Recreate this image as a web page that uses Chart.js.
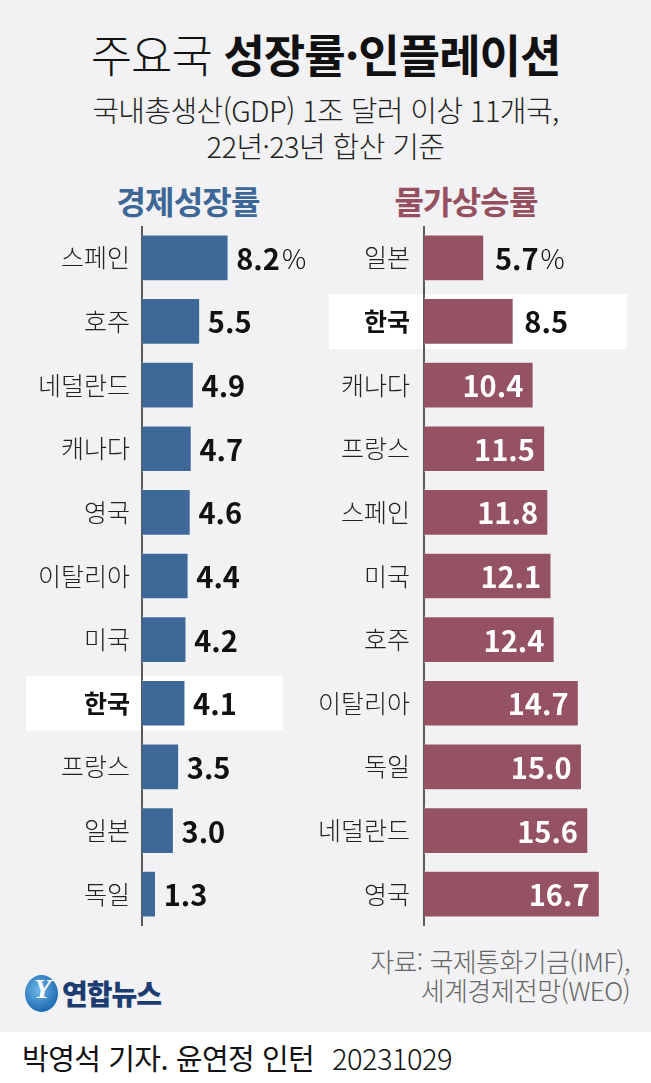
<!DOCTYPE html>
<html lang="ko">
<head>
<meta charset="utf-8">
<script src="https://cdn.jsdelivr.net/npm/chart.js@4"></script>
<style>
  body { margin: 0; background: #f2f2f4; font-family: "Noto Sans CJK KR", sans-serif; }
  #page { position: relative; width: 651px; height: 1083px; overflow: hidden; background: #f2f2f4; }
  .abs { position: absolute; }
  #title { top: 24px; left: 0; width: 651px; text-align: center; font-size: 45px; color: #111; line-height: 60px; letter-spacing: -1px; }
  #title .thin { font-weight: 300; }
  #title .bold { font-weight: 700; }
  #sub { top: 91px; left: 0; width: 651px; text-align: center; font-size: 29px; font-weight: 300; color: #222; line-height: 36px; letter-spacing: -0.6px; }
  .head { top: 180px; font-size: 32px; font-weight: 700; line-height: 40px; text-align: center; width: 220px; letter-spacing: -0.8px; }
  #headL { left: 78px; color: #3d6797; }
  #headR { left: 356px; color: #954f5f; }
  #cL { left: 0; top: 226px; }
  #cR { left: 290px; top: 226px; }
  #src { right: 21px; top: 946px; text-align: right; font-size: 26px; font-weight: 300; color: #666; line-height: 29px; letter-spacing: -0.6px; }
  #logo { left: 25px; top: 975px; height: 36px; }
  #logo .dot { position: absolute; left: 0; top: 0; width: 33px; height: 37px; border-radius: 50%;
    background: radial-gradient(circle at 40% 40%, #6fb6e8, #1f6db5 70%); }
  #logo .dot span { position: absolute; left: 9px; top: -2px; color: #fff; font-style: italic; font-weight: 700; font-size: 28px; font-family: "Liberation Serif", serif; }
  #logo .txt { position: absolute; left: 37px; top: 0; font-size: 28px; font-weight: 900; color: #1d3c72; line-height: 36px; letter-spacing: -1px; white-space: nowrap; }
  #foot { left: 0; top: 1032px; width: 651px; height: 51px; background: #fff; }
  #credit { left: 22px; top: 1037px; font-size: 29px; color: #111; line-height: 40px; white-space: nowrap; letter-spacing: -0.5px; }
  #credit .date { font-weight: 300; margin-left: 10px; }
</style>
</head>
<body>
<div id="page">
  <div id="title" class="abs"><span class="thin">주요국</span> <span class="bold">성장률·인플레이션</span></div>
  <div id="sub" class="abs">국내총생산(GDP) 1조 달러 이상 11개국,<br>22년·23년 합산 기준</div>
  <div id="headL" class="abs head">경제성장률</div>
  <div id="headR" class="abs head">물가상승률</div>
  <canvas id="cL" class="abs" width="325" height="700"></canvas>
  <canvas id="cR" class="abs" width="361" height="700"></canvas>
  <div id="src" class="abs">자료: 국제통화기금(IMF),<br>세계경제전망(WEO)</div>
  <div id="logo" class="abs"><div class="dot"><span>Y</span></div><div class="txt">연합뉴스</div></div>
  <div id="foot" class="abs"></div>
  <div id="credit" class="abs">박영석 기자. 윤연정 인턴 <span class="date">20231029</span></div>
</div>
<script>
// ====== DATA ======
const growthCountries = ["스페인", "호주", "네덜란드", "캐나다", "영국", "이탈리아", "미국", "한국", "프랑스", "일본", "독일"];
const growthValues = [8.2, 5.5, 4.9, 4.7, 4.6, 4.4, 4.2, 4.1, 3.5, 3.0, 1.3];

const inflationCountries = ["일본", "한국", "캐나다", "프랑스", "스페인", "미국", "호주", "이탈리아", "독일", "네덜란드", "영국"];
const inflationValues = [5.7, 8.5, 10.4, 11.5, 11.8, 12.1, 12.4, 14.7, 15.0, 15.6, 16.7];

const FONT = '"Noto Sans CJK KR", sans-serif';
const HIGHLIGHT = "한국";

// white band behind the Korea row (drawn before the axis labels)
const highlightPlugin = {
  id: "highlightRow",
  beforeDraw(chart, args, opts) {
    const idx = chart.data.labels.indexOf(HIGHLIGHT);
    if (idx < 0) return;
    const y = chart.scales.y.getPixelForValue(idx);
    const ctx = chart.ctx;
    ctx.save();
    ctx.fillStyle = "#ffffff";
    ctx.fillRect(opts.x1, y - 27.5, opts.x2 - opts.x1, 55);
    ctx.restore();
  }
};

// value labels: outside (black) or inside (white)
const valueLabelPlugin = {
  id: "valueLabels",
  afterDatasetsDraw(chart, args, opts) {
    const ctx = chart.ctx;
    const values = chart.data.datasets[0].data;
    ctx.save();
    ctx.textBaseline = "middle";
    chart.getDatasetMeta(0).data.forEach((bar, i) => {
      const v = values[i];
      const txt = v.toFixed(1);
      ctx.font = "700 29px " + FONT;
      if (v >= opts.insideFrom) {
        ctx.fillStyle = "#ffffff";
        ctx.textAlign = "right";
        ctx.fillText(txt, bar.x - 10, bar.y + 1);
      } else {
        ctx.fillStyle = "#111111";
        ctx.textAlign = "left";
        const x0 = bar.x + opts.gap;
        ctx.fillText(txt, x0, bar.y + 1);
        if (i === 0) {
          const w = ctx.measureText(txt).width;
          ctx.font = "300 27px " + FONT;
          ctx.fillText("%", x0 + w + 2, bar.y + 1);
        }
      }
    });
    ctx.restore();
  }
};

function makeChart(id, labels, values, color, axisWidth, xMax, tickPad, hl, insideFrom, gap) {
  return new Chart(document.getElementById(id), {
    type: "bar",
    data: {
      labels: labels,
      datasets: [{
        data: values,
        backgroundColor: color,
        borderColor: "rgba(255,255,255,0.35)",
        borderWidth: 1,
        barThickness: 46
      }]
    },
    options: {
      indexAxis: "y",
      responsive: false,
      animation: false,
      layout: { padding: 0 },
      plugins: {
        legend: { display: false },
        tooltip: { enabled: false },
        highlightRow: hl,
        valueLabels: { insideFrom: insideFrom, gap: gap }
      },
      scales: {
        x: { display: false, min: 0, max: xMax },
        y: {
          afterFit(scale) {
            scale.width = axisWidth;
            scale.paddingTop = 0;
            scale.paddingBottom = 0;
          },
          grid: { display: true, drawOnChartArea: false, drawTicks: false },
          border: { display: true, color: "#5a5a5a", width: 2 },
          ticks: {
            padding: tickPad,
            color: c => c.tick && c.tick.label === HIGHLIGHT ? "#111" : "#222",
            font: c => ({
              family: FONT,
              size: 25,
              weight: c.tick && c.tick.label === HIGHLIGHT ? "bold" : "300"
            })
          }
        }
      }
    },
    plugins: [highlightPlugin, valueLabelPlugin]
  });
}

makeChart("cL", growthCountries, growthValues, "#3d6897", 142, 17.4, 12, { x1: 26, x2: 283 }, 100, 8);
makeChart("cR", inflationCountries, inflationValues, "#945262", 134, 21.6, 14, { x1: 39, x2: 337 }, 10, 11);
</script>
</body>
</html>
